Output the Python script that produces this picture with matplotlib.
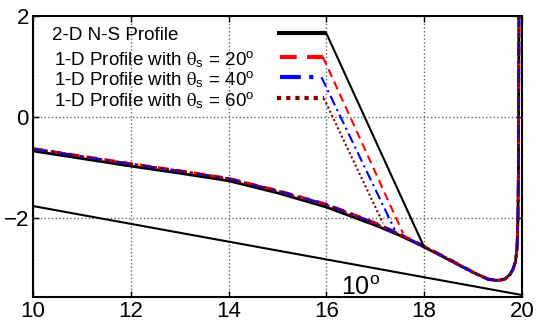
import matplotlib
matplotlib.use("Agg")
import matplotlib.pyplot as plt

plt.rcParams['font.family'] = ['Liberation Sans', 'DejaVu Sans']
plt.rcParams['mathtext.fontset'] = 'stix'

# ----------------- data -----------------
x_ns = [10, 11, 12, 13, 14, 15, 16, 17, 17.5, 18, 18.5, 19, 19.3, 19.5,
        19.65, 19.75, 19.82, 19.87, 19.9, 19.92, 19.93, 19.94]
y_ns = [-0.67, -0.82, -0.97, -1.11, -1.26, -1.50, -1.78, -2.14, -2.34, -2.57,
        -2.82, -3.07, -3.20, -3.23, -3.20, -3.12, -3.00, -2.85, -2.60, -2.00,
        -1.00, 2.0]

x_1d = x_ns
y_1d_20 = [-0.62, -0.77, -0.92, -1.06, -1.21, -1.45, -1.72, -2.09, -2.31, -2.55,
           -2.80, -3.06, -3.20, -3.24, -3.21, -3.13, -3.01, -2.86, -2.61, -2.00,
           -1.00, 2.0]
y_1d_40 = [-0.63, -0.78, -0.93, -1.07, -1.22, -1.46, -1.73, -2.10, -2.32, -2.56,
           -2.81, -3.07, -3.21, -3.24, -3.21, -3.13, -3.01, -2.86, -2.61, -2.00,
           -1.00, 2.0]
y_1d_60 = [-0.63, -0.78, -0.93, -1.07, -1.22, -1.47, -1.74, -2.11, -2.33, -2.57,
           -2.82, -3.08, -3.21, -3.24, -3.21, -3.13, -3.01, -2.86, -2.61, -2.00,
           -1.00, 2.0]

# 10 degree reference line
x_ref = [10, 20]
y_ref = [-1.76, -3.52]

# legend samples: (x start, x end, y) and where the pointer meets the curve
th = r"$\mathrm{\theta}_\mathregular{s}$"
labels = ["2-D N-S Profile",
          "1-D Profile with " + th + r" = 20$\mathregular{^o}$",
          "1-D Profile with " + th + r" = 40$\mathregular{^o}$",
          "1-D Profile with " + th + r" = 60$\mathregular{^o}$"]
leg_x0 = [15.0, 15.05, 15.05, 15.0]
leg_x1 = [16.0, 15.93, 15.9, 15.95]
leg_y = [1.66, 1.19, 0.79, 0.37]
tip_x = [18.0, 17.57, 17.4, 17.16]
tip_y = [-2.57, -2.30, -2.23, -2.10]

colors = ['black', '#ff0000', '#0000ff', '#800000']
styles = ['-', (0, (4, 2.5)), (0, (5, 2, 1, 2)), (0, (1, 1.2))]

fig = plt.figure(figsize=(5.38, 3.33), dpi=100)
ax = fig.add_axes([0.0613, 0.108, 0.9087, 0.844])

ax.plot(x_ref, y_ref, color='black', lw=1.5)
ax.plot(x_ns, y_ns, color=colors[0], ls=styles[0], lw=2)
ax.plot(x_1d, y_1d_20, color=colors[1], ls=styles[1], lw=2)
ax.plot(x_1d, y_1d_40, color=colors[2], ls=styles[2], lw=2)
ax.plot(x_1d, y_1d_60, color=colors[3], ls=styles[3], lw=2)

for i in range(4):
    ax.plot([leg_x0[i], leg_x1[i]], [leg_y[i], leg_y[i]], color=colors[i],
            ls=styles[i], lw=3, solid_capstyle='butt', dash_capstyle='butt')
    ax.plot([leg_x1[i], tip_x[i]], [leg_y[i], tip_y[i]], color=colors[i],
            ls=styles[i], lw=1.5)
    ax.text(10.38 if i == 0 else 10.42, leg_y[i] - 0.05, labels[i],
            fontsize=13.5, va='center', ha='left')

ax.text(16.3, -3.52, r"10$\mathregular{^o}$", fontsize=18, va='baseline', ha='left')

ax.set_xlim(10, 20)
ax.set_ylim(-3.56, 2)
ax.set_xticks([10, 12, 14, 16, 18, 20])
ax.set_yticks([-2, 0, 2])
ax.tick_params(direction='in', top=True, right=True, labelsize=16, length=4, width=1, pad=3)
ax.grid(True, ls=':', color='#666666', lw=1)
ax.set_axisbelow(True)
for s in ax.spines.values():
    s.set_linewidth(1.5)

fig.savefig("out.png", dpi=100)
